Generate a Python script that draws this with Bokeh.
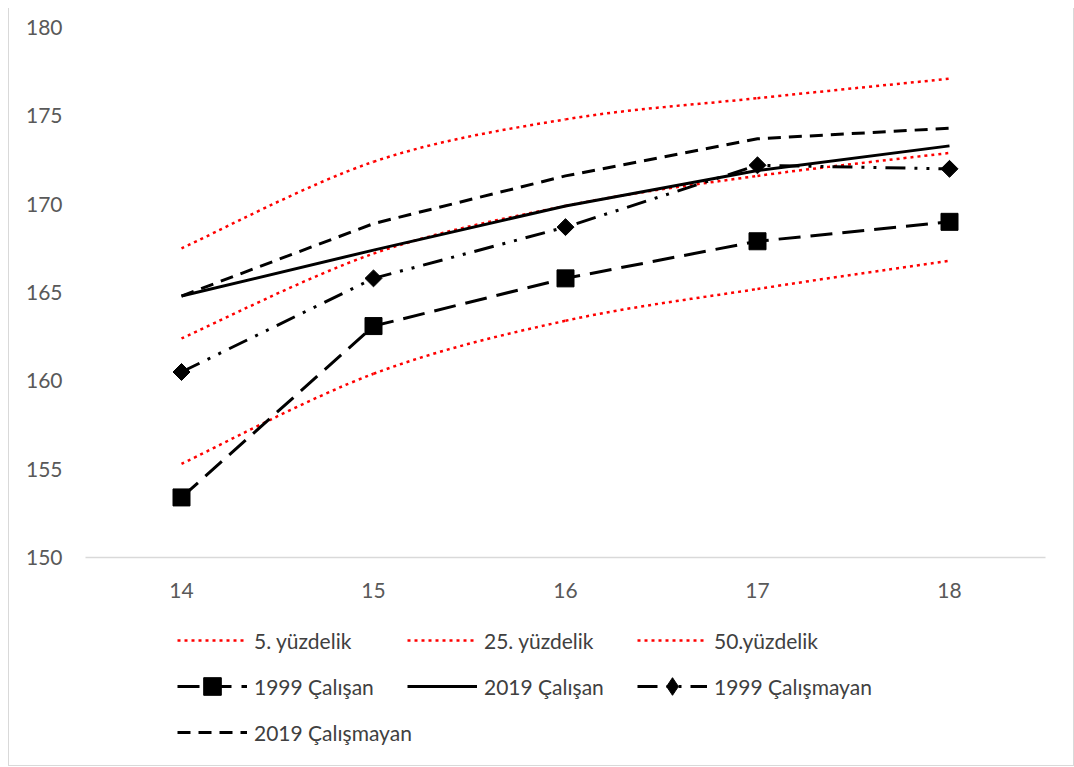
import numpy as np
from bokeh.plotting import figure
from bokeh.layouts import column
from bokeh.models import Range1d, FixedTicker, Legend, LegendItem
from bokeh.embed import file_html
from bokeh.resources import INLINE

ages = [14, 15, 16, 17, 18]
p5 = [155.3, 160.4, 163.4, 165.2, 166.8]
p25 = [162.4, 167.2, 169.9, 171.6, 172.9]
p50 = [167.5, 172.4, 174.8, 176.0, 177.1]
calisan_1999 = [153.4, 163.1, 165.8, 167.9, 169.0]
calisan_2019 = [164.8, 167.4, 169.9, 171.9, 173.3]
calismayan_1999 = [160.5, 165.8, 168.7, 172.2, 172.0]
calismayan_2019 = [164.8, 168.9, 171.6, 173.7, 174.3]
y_ticks = [150, 155, 160, 165, 170, 175, 180]

FONT = "Lato"
W = 1064

p = figure(width=W, height=609, output_backend="svg", toolbar_location=None,
           x_range=Range1d(13.5, 18.5), y_range=Range1d(150, 180),
           min_border_left=76, min_border_right=28, min_border_top=19, min_border_bottom=60)
p.outline_line_color = None
p.grid.grid_line_color = None

p.xaxis.ticker = FixedTicker(ticks=ages)
p.yaxis.ticker = FixedTicker(ticks=y_ticks)
for ax in (p.xaxis[0], p.yaxis[0]):
    ax.major_tick_line_color = None
    ax.minor_tick_line_color = None
    ax.major_label_text_font = FONT
    ax.major_label_text_font_size = "21px"
    ax.major_label_text_color = "#595959"
p.yaxis.axis_line_color = None
p.yaxis.major_label_standoff = 17
p.xaxis.axis_line_color = "#d9d9d9"
p.xaxis.axis_line_width = 1.5
p.xaxis.major_label_standoff = 19


def smooth(xs, ys):
    n = len(xs)
    x0, y0, x1, y1, cx0, cy0, cx1, cy1 = ([] for _ in range(8))
    for i in range(n - 1):
        ip = max(i - 1, 0)
        inx = min(i + 2, n - 1)
        x0.append(xs[i]); y0.append(ys[i])
        x1.append(xs[i + 1]); y1.append(ys[i + 1])
        cx0.append(xs[i] + (xs[i + 1] - xs[ip]) / 6.0)
        cy0.append(ys[i] + (ys[i + 1] - ys[ip]) / 6.0)
        cx1.append(xs[i + 1] - (xs[inx] - xs[i]) / 6.0)
        cy1.append(ys[i + 1] - (ys[inx] - ys[i]) / 6.0)
    return dict(x0=x0, y0=y0, x1=x1, y1=y1, cx0=cx0, cy0=cy0, cx1=cx1, cy1=cy1)


RED = dict(line_color="#ff0000", line_width=2.5, line_dash="3 4")
series = [
    ("5. yüzdelik", p5, RED, None, True),
    ("25. yüzdelik", p25, RED, None, True),
    ("50.yüzdelik", p50, RED, None, True),
    ("1999 Çalışan", calisan_1999, dict(line_color="black", line_width=3, line_dash="22 10"), "square", False),
    ("2019 Çalışan", calisan_2019, dict(line_color="black", line_width=3), None, False),
    ("1999 Çalışmayan", calismayan_1999, dict(line_color="black", line_width=3, line_dash="20 9 3 9 3 9"), "diamond", False),
    ("2019 Çalışmayan", calismayan_2019, dict(line_color="black", line_width=3, line_dash="13 8"), None, False),
]

# legend panel (separate figure below the chart)
LH = 148
pl = figure(width=W, height=LH, output_backend="svg", toolbar_location=None,
            x_range=Range1d(13.5, 18.5), y_range=Range1d(150, 180),
            x_axis_location=None, y_axis_location=None, min_border=0)
pl.outline_line_color = None
pl.grid.grid_line_color = None

legend_rs = {}
for name, ys, style, marker, smoothed in series:
    if smoothed:
        p.bezier(**smooth(ages, ys), **style)
    else:
        p.line(ages, ys, **style)
    rs = [pl.line(ages, ys, visible=False, **style)]
    if marker == "square":
        p.scatter(ages, ys, marker="square", size=17, color="black")
        rs.append(pl.scatter(ages, ys, marker="square", size=17, color="black", visible=False))
    elif marker == "diamond":
        p.scatter(ages, ys, marker="square", angle=np.pi / 4, size=12, color="black")
        rs.append(pl.scatter(ages, ys, marker="diamond", size=20, color="black", visible=False))
    legend_rs[name] = rs

columns = [
    ["5. yüzdelik", "1999 Çalışan", "2019 Çalışmayan"],
    ["25. yüzdelik", "2019 Çalışan"],
    ["50.yüzdelik", "1999 Çalışmayan"],
]
col_x = [92, 322, 552]
GH, SP = 44, 2
for cx, names in zip(col_x, columns):
    h = len(names) * GH + (len(names) - 1) * SP
    vy = LH - 1 - h
    leg = Legend(items=[LegendItem(label=n, renderers=legend_rs[n]) for n in names],
                 location=(cx, vy), orientation="vertical",
                 glyph_width=70, glyph_height=GH, label_height=GH, label_width=100,
                 label_standoff=7, spacing=SP, padding=0, margin=0,
                 border_line_color=None, background_fill_alpha=0,
                 label_text_font=FONT, label_text_font_size="21px",
                 label_text_color="#404040")
    pl.add_layout(leg, "center")

layout = column(p, pl, styles={"border": "1px solid #d9d9d9", "border-top": "none",
                               "margin-left": "8px", "margin-top": "8px"})

open("out.html", "w").write(file_html(layout, INLINE))
